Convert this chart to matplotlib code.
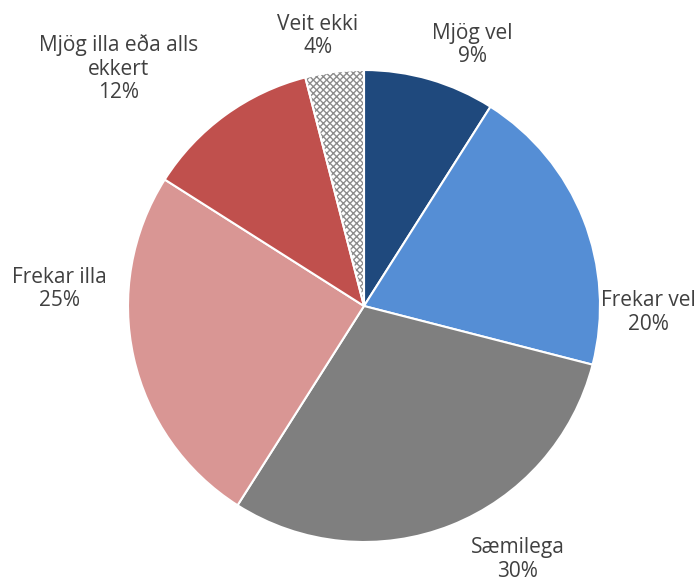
import matplotlib.pyplot as plt
from matplotlib.patches import Wedge

labels = ["Mjög vel", "Frekar vel", "Sæmilega", "Frekar illa",
          "Mjög illa eða alls\nekkert", "Veit ekki"]
shares = [9, 20, 30, 25, 12, 4]
colors = ["#1f497d", "#558ed5", "#7f7f7f", "#d99694", "#c0504d", "#ffffff"]

# label centres in pie-radius units
label_pos = [(0.46, 1.105), (1.205, -0.028), (0.65, -1.075),
             (-1.29, 0.073), (-1.04, 1.005), (-0.195, 1.145)]

plt.rcParams["font.family"] = ["Open Sans", "DejaVu Sans"]

fig = plt.figure(figsize=(7, 5.82), dpi=100)
r = 236
cx, cy = 364, 306
ax = fig.add_axes([(cx - r) / 700, (582 - cy - r) / 582, 2 * r / 700, 2 * r / 582])

wedges, _ = ax.pie(shares, colors=colors, startangle=90, counterclock=False,
                   wedgeprops=dict(edgecolor="white", linewidth=1.5))

# hatched "Veit ekki" slice: grey hatch, then white outline on top
w = wedges[-1]
w.set_edgecolor("#8c8c8c")
w.set_linewidth(0)
w.set_hatch("xxxxx")
ax.add_patch(Wedge(w.center, w.r, w.theta1, w.theta2, facecolor="none",
                   edgecolor="white", linewidth=1.5))
ax.set_xlim(-1, 1)
ax.set_ylim(-1, 1)

for lab, val, (x, y) in zip(labels, shares, label_pos):
    ax.text(x, y, f"{lab}\n{val}%", ha="center", va="center", fontsize=15,
            color="#404040", linespacing=1.15, clip_on=False)

fig.savefig("out.png", dpi=100)
